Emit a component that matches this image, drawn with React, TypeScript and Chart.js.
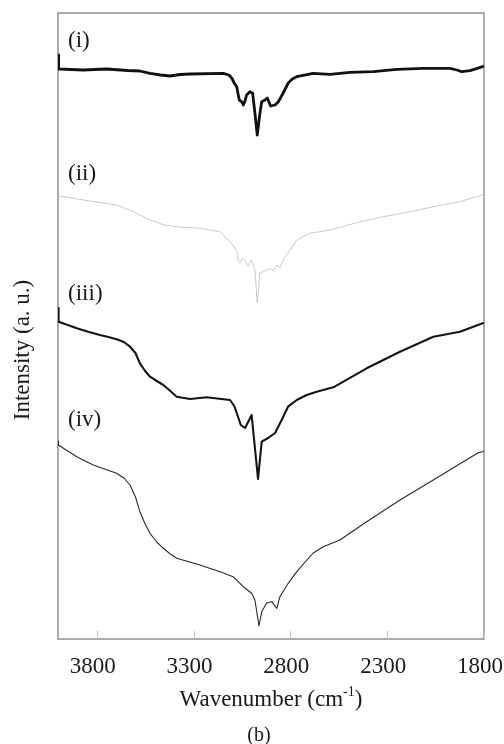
import React, { useEffect, useRef } from "react";
import { Chart, registerables } from "chart.js";

Chart.register(...registerables);

// Axis ticks (wavenumber, cm-1)
const TICK_VALUES = [3800, 3300, 2800, 2300, 1800];

// Curve names
const CURVE_NAMES = ["(i)", "(ii)", "(iii)", "(iv)"];
// Label anchors (wavenumber, intensity a.u.)
const LABEL_WN = [3948, 3948, 3948, 3948];
const LABEL_Y = [598, 465, 345, 219];

// Spectrum (i)
const WN_I = [4000, 3997, 3870, 3749, 3640, 3577, 3525, 3470, 3422, 3370, 3318, 3146, 3118, 3103, 3090, 3077, 3064, 3050, 3043, 3034, 3026, 3009, 2995, 2983, 2971, 2957, 2948, 2931, 2919, 2902, 2879, 2862, 2837, 2811, 2790, 2767, 2682, 2595, 2492, 2372, 2251, 2114, 1976, 1940, 1915, 1872, 1807, 1800];
const Y_I = [584, 570, 569, 570, 568.5, 568, 565.7, 564, 563, 564.5, 565, 565.7, 564, 561, 556, 552.3, 539, 537, 534, 538, 544, 547.3, 546, 526, 504, 526, 537.3, 539, 541, 533, 534, 537.3, 546, 556, 560, 562.3, 565.7, 564.7, 566.7, 567.3, 569.7, 570.7, 570.7, 569, 567.3, 568.3, 572.3, 573];

// Spectrum (ii)
const WN_II = [4000, 3990, 3869, 3697, 3611, 3525, 3450, 3387, 3267, 3163, 3112, 3090, 3077, 3068, 3060, 3045, 3034, 3017, 3008, 3000, 2990, 2983, 2971, 2957, 2940, 2920, 2905, 2888, 2870, 2855, 2837, 2802, 2767, 2699, 2595, 2457, 2320, 2182, 2044, 1924, 1812, 1800];
const Y_II = [444, 443, 439, 434, 427.3, 419, 414, 412.3, 410.7, 407.3, 397.3, 392, 387.3, 378, 376, 381, 379, 372.3, 377, 379, 373, 369, 336, 366, 367.3, 369, 370.7, 368, 374, 371, 379, 389, 399, 405.7, 409, 416.3, 422.3, 427.3, 433, 437.3, 444, 445];

// Spectrum (iii)
const WN_III = [4000, 3997, 3950, 3903, 3840, 3783, 3740, 3697, 3660, 3628, 3600, 3577, 3550, 3525, 3490, 3456, 3420, 3387, 3318, 3232, 3112, 3090, 3077, 3056, 3034, 3000, 2967, 2948, 2915, 2879, 2845, 2812, 2767, 2716, 2664, 2578, 2406, 2234, 2062, 1924, 1807, 1800];
const Y_III = [331, 317.3, 314, 310.7, 307, 304, 302, 299.7, 297, 292.3, 286, 275.7, 268, 262.3, 258, 254, 248, 242.3, 240, 241.7, 239, 233, 226, 214, 211, 224, 160, 197.3, 201, 206, 219, 232.3, 239, 244, 247.3, 251.7, 270.7, 287.3, 302.3, 307.3, 315.7, 316];

// Spectrum (iv)
const WN_IV = [4000, 3998, 3950, 3903, 3860, 3818, 3760, 3697, 3660, 3628, 3600, 3577, 3550, 3525, 3490, 3456, 3420, 3387, 3267, 3163, 3096, 3043, 3000, 2983, 2962, 2948, 2922, 2896, 2870, 2854, 2811, 2767, 2682, 2630, 2544, 2406, 2234, 2062, 1907, 1830, 1807, 1800];
const Y_IV = [198, 194, 188, 182.3, 178, 174, 170, 165.7, 161, 154, 142, 127.3, 115, 105.7, 97, 90.7, 85, 80.7, 74, 67.3, 62.3, 52.3, 45.7, 39, 13, 27.3, 36, 37.3, 30.7, 42.3, 55.7, 67.3, 86, 92.3, 99, 117.3, 139, 159, 177.3, 186.3, 187.3, 188];

const SERIES_X = [WN_I, WN_II, WN_III, WN_IV];
const SERIES_Y = [Y_I, Y_II, Y_III, Y_IV];
const COLORS = ["#111111", "#c9c9c9", "#151515", "#2a2a2a"];
const WIDTHS = [2.8, 1, 2.1, 1.1];

const FONT = "Liberation Serif, Times New Roman, serif";

const overlay = {
  id: "overlay",
  beforeDatasetsDraw(chart: any) {
    const { ctx, chartArea: a, scales } = chart;
    ctx.save();
    ctx.strokeStyle = "#8f8f8f";
    ctx.lineWidth = 1.5;
    ctx.strokeRect(a.left, a.top, a.right - a.left, a.bottom - a.top);
    ctx.strokeStyle = "#c4c4c4";
    ctx.lineWidth = 1;
    for (const v of TICK_VALUES) {
      const px = Math.round(scales.x.getPixelForValue(v)) + 0.5;
      ctx.beginPath();
      ctx.moveTo(px, a.bottom);
      ctx.lineTo(px, a.bottom - 8);
      ctx.stroke();
    }
    ctx.restore();
  },
  afterDraw(chart: any) {
    const { ctx, chartArea: a, scales } = chart;
    ctx.save();
    ctx.fillStyle = "#1a1a1a";
    // curve labels
    ctx.font = `23px ${FONT}`;
    ctx.textAlign = "left";
    ctx.textBaseline = "middle";
    CURVE_NAMES.forEach((t, i) => {
      ctx.fillText(t, scales.x.getPixelForValue(LABEL_WN[i]), scales.y.getPixelForValue(LABEL_Y[i]));
    });
    // x title with superscript
    const main = "Wavenumber (cm";
    const sup = "-1";
    const end = ")";
    ctx.font = `23px ${FONT}`;
    const w1 = ctx.measureText(main).width;
    const w3 = ctx.measureText(end).width;
    ctx.font = `14px ${FONT}`;
    const w2 = ctx.measureText(sup).width;
    const cx = (a.left + a.right) / 2;
    const x0 = cx - (w1 + w2 + w3) / 2;
    ctx.textBaseline = "alphabetic";
    ctx.textAlign = "left";
    ctx.font = `23px ${FONT}`;
    ctx.fillText(main, x0, 706);
    ctx.font = `14px ${FONT}`;
    ctx.fillText(sup, x0 + w1, 696);
    ctx.font = `23px ${FONT}`;
    ctx.fillText(end, x0 + w1 + w2, 706);
    // (b)
    ctx.font = `20px ${FONT}`;
    ctx.textAlign = "center";
    ctx.textBaseline = "middle";
    ctx.fillText("(b)", 259, 736);
    // y title
    ctx.translate(23, 350);
    ctx.rotate(-Math.PI / 2);
    ctx.font = `23px ${FONT}`;
    ctx.textAlign = "center";
    ctx.textBaseline = "middle";
    ctx.fillText("Intensity (a. u.)", 0, 0);
    ctx.restore();
  },
};

export default function App() {
  const ref = useRef<HTMLCanvasElement>(null);
  useEffect(() => {
    if (!ref.current) return;
    const chart = new Chart(ref.current, {
      type: "line",
      data: {
        datasets: SERIES_X.map((xs, k) => ({
          label: CURVE_NAMES[k],
          data: xs.map((x, i) => ({ x, y: SERIES_Y[k][i] })),
          borderColor: COLORS[k],
          borderWidth: WIDTHS[k],
          pointRadius: 0,
          tension: 0,
          fill: false,
          borderJoinStyle: "round" as const,
        })),
      },
      options: {
        animation: false,
        responsive: false,
        layout: { padding: { top: 13, right: 20, left: 0, bottom: 0 } },
        plugins: {
          legend: { display: false },
          tooltip: { enabled: false },
          title: { display: false },
        },
        scales: {
          x: {
            type: "linear",
            min: 1800,
            max: 4000,
            reverse: true,
            afterBuildTicks: (s: any) => {
              s.ticks = TICK_VALUES.map((v) => ({ value: v }));
            },
            afterFit: (s: any) => {
              s.height = 105;
              s.paddingLeft = 0;
              s.paddingRight = 0;
            },
            grid: { display: false, drawTicks: false },
            border: { display: false },
            ticks: {
              font: { family: FONT, size: 23 },
              color: "#1a1a1a",
              padding: 14,
              labelOffset: -4,
              maxRotation: 0,
              autoSkip: false,
              callback: (v: any) => String(v),
            },
          },
          y: {
            min: 0,
            max: 626,
            afterFit: (s: any) => {
              s.width = 58;
              s.paddingTop = 0;
              s.paddingBottom = 0;
            },
            ticks: { display: false },
            grid: { display: false },
            border: { display: false },
          },
        },
      },
      plugins: [overlay],
    });
    return () => chart.destroy();
  }, []);
  return (
    <div style={{ position: "absolute", left: 0, top: 0, width: 504, height: 744, background: "#fff" }}>
      <canvas ref={ref} width={504} height={744} style={{ display: "block" }} />
    </div>
  );
}
